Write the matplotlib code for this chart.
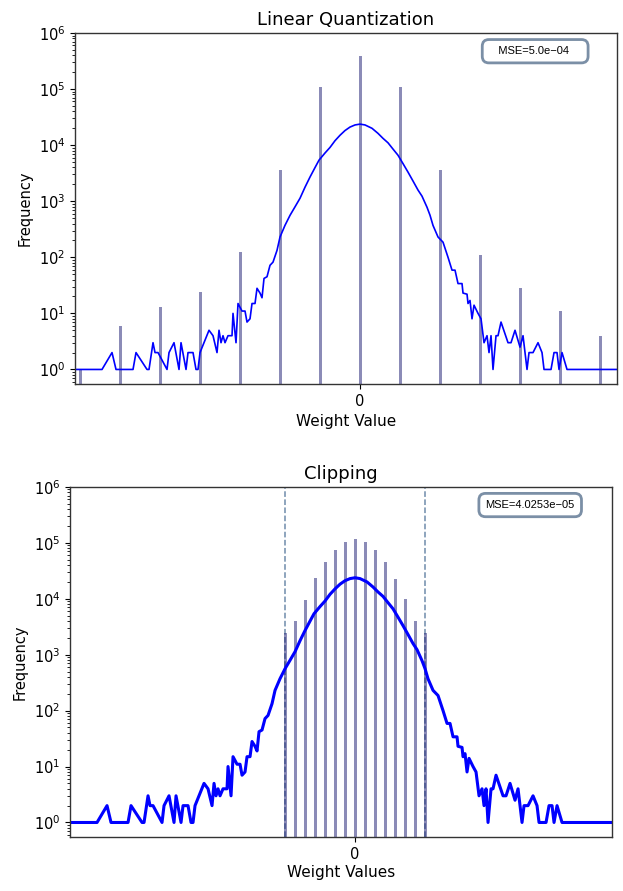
import numpy as np
import matplotlib.pyplot as plt

# histogram of the full precision weights (bin centre, count)
# x is in units of the linear quantization step
w_bins = [-7.125, -6.45, -6.2, -6.1, -5.675, -5.6, -5.325, -5.275, -5.175, -5.125,
          -5.05, -4.825, -4.775, -4.65, -4.525, -4.475, -4.35, -4.3, -4.175, -4.1,
          -4.05, -4.0, -3.775, -3.675, -3.575, -3.525, -3.475, -3.425, -3.375, -3.3,
          -3.2, -3.175, -3.1, -3.05, -2.95, -2.875, -2.825, -2.75, -2.7, -2.625,
          -2.575, -2.5, -2.45, -2.4, -2.325, -2.25, -2.175, -2.075, -2.0, -1.875,
          -1.75, -1.625, -1.5, -1.375, -1.25, -1.125, -1.025, -0.875, -0.75, -0.625,
          -0.5, -0.375, -0.25, -0.125, 0.0, 0.125, 0.3, 0.45, 0.575, 0.7,
          0.825, 0.95, 1.075, 1.2, 1.325, 1.45, 1.55, 1.675, 1.75, 1.825,
          1.95, 2.075, 2.2, 2.3, 2.375, 2.45, 2.55, 2.575, 2.675, 2.7,
          2.75, 2.8, 2.85, 2.95, 3.025, 3.1, 3.175, 3.225, 3.275, 3.325,
          3.4, 3.45, 3.525, 3.7, 3.775, 3.875, 4.0, 4.075, 4.175, 4.225,
          4.325, 4.45, 4.55, 4.6, 4.775, 4.85, 4.925, 4.975, 5.05, 5.175,
          6.425]
w_counts = [1, 1, 2, 1, 1, 2, 1, 1, 3, 2,
            2, 1, 2, 3, 1, 3, 1, 2, 2, 1,
            1, 2, 5, 4, 2, 5, 3, 4, 3, 4,
            4, 10, 3, 15, 11, 11, 7, 8, 15, 15,
            28, 23, 19, 42, 45, 72, 82, 133, 230, 372,
            560, 794, 1130, 1778, 2700, 3981, 5400, 7244, 9100, 12000,
            15000, 18200, 21000, 22900, 23700, 22900, 19950, 16200, 13200, 11000,
            8500, 6600, 4680, 3300, 2290, 1580, 1230, 780, 562, 370,
            230, 186, 100, 59, 59, 34, 34, 23, 22, 15,
            17, 8, 14, 10, 8, 3, 4, 2, 4, 1,
            4, 4, 7, 3, 3, 5, 2.5, 4, 1, 2,
            2, 3, 2, 1, 1, 2, 2, 1, 2, 1,
            1]

# linear quantization: levels and counts
lin_levels = [-7, -6, -5, -4, -3, -2, -1, 0, 1, 2, 3, 4, 5, 6]
lin_counts = [1, 6, 13, 24, 123, 3600, 107000, 390000, 107000, 3600, 112, 28, 11, 4]
lin_mse = '   MSE=5.0e\u221204    '

# clipping: finer levels inside the clip range
clip_levels = [-1.75, -1.5, -1.25, -1.0, -0.75, -0.5, -0.25, 0,
               0.25, 0.5, 0.75, 1.0, 1.25, 1.5, 1.75]
clip_counts = [2450, 4000, 9500, 23500, 46000, 75000, 105000, 118000,
               105000, 75000, 46000, 22400, 10000, 4000, 2450]
clip_range = [-1.75, 1.75]
clip_mse = 'MSE=4.0253e\u221205'

xlim = (-7.125, 6.425)
ylim = (0.55, 1e6)
bar_col = 'midnightblue'
box_col = '#7b8fa6'

fig = plt.figure(figsize=(6.23, 8.91), dpi=100)
ax1 = fig.add_axes([0.1204, 0.569, 0.870, 0.394])
ax2 = fig.add_axes([0.1124, 0.0606, 0.870, 0.393])

#top: linear quantization
ax1.bar(lin_levels, lin_counts, width=0.075, color=bar_col, alpha=0.5, zorder=1)
ax1.plot(w_bins, w_counts, color='blue', lw=1.2, zorder=2)
ax1.set_title('Linear Quantization', fontsize=13)
ax1.set_xlabel('Weight Value', fontsize=11)
ax1.text(0.849, 0.948, lin_mse, transform=ax1.transAxes, ha='center', va='center',
         fontsize=8, family='Liberation Sans',
         bbox=dict(boxstyle='round,pad=0.6', fc='white', ec=box_col, lw=2))

#bottom: clipping
for c in clip_range:
    ax2.axvline(c, color='#6f8cab', ls='--', lw=1.1, zorder=0)
ax2.bar(clip_levels, clip_counts, width=0.075, color=bar_col, alpha=0.5, zorder=1)
ax2.plot(w_bins, w_counts, color='blue', lw=2.2, zorder=2)
ax2.set_title('Clipping', fontsize=13)
ax2.set_xlabel('Weight Values', fontsize=11, labelpad=2)
ax2.text(0.849, 0.948, clip_mse, transform=ax2.transAxes, ha='center', va='center',
         fontsize=8, family='Liberation Sans',
         bbox=dict(boxstyle='round,pad=0.6', fc='white', ec=box_col, lw=2))

for ax in [ax1, ax2]:
    ax.set_yscale('log')
    ax.set_ylim(ylim)
    ax.set_xlim(xlim)
    ax.set_xticks([0])
    ax.set_xticklabels(['0'])
    ax.set_ylabel('Frequency', fontsize=10.5)
    ax.tick_params(labelsize=10.5)
    for s in ax.spines.values():
        s.set_linewidth(1.0)
        s.set_color('#333333')

fig.savefig('out.png', dpi=100)
